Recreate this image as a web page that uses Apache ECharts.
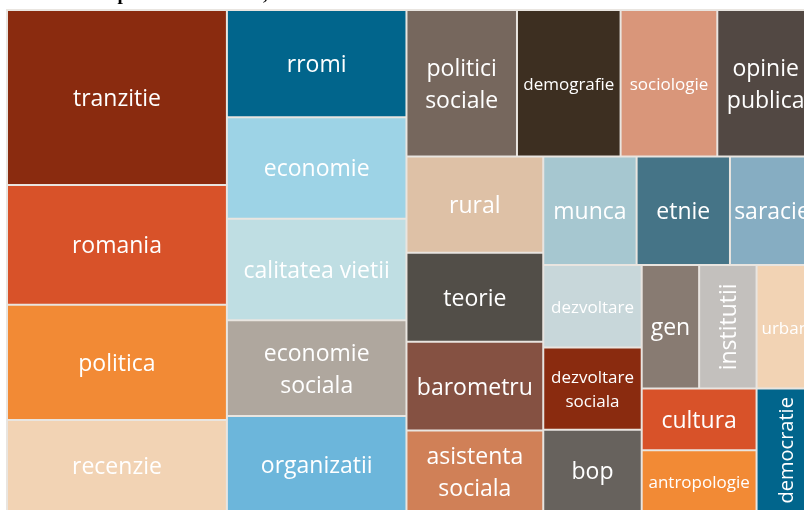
<!DOCTYPE html>
<html>
<head>
<meta charset="utf-8">
<script src="https://cdn.jsdelivr.net/npm/echarts@6/dist/echarts.min.js"></script>
<style>
html,body{margin:0;padding:0;background:#fff}
#chart{width:804px;height:510px}
</style>
</head>
<body>
<div id="chart"></div>
<script>
// cuvinte cheie si numarul de aparitii
var keywords = ['tranzitie', 'romania', 'politica', 'recenzie',
    'rromi', 'economie', 'calitatea vietii', 'economie sociala', 'organizatii',
    'politici sociale', 'demografie', 'sociologie', 'opinie publica',
    'rural', 'teorie', 'barometru', 'asistenta sociala',
    'munca', 'etnie', 'saracie',
    'dezvoltare', 'dezvoltare sociala', 'bop',
    'gen', 'institutii', 'urban', 'cultura', 'antropologie', 'democratie'];
var counts = [38, 26, 25, 20,
    19, 18, 18, 17, 17,
    16, 15, 14, 14,
    13, 12, 12, 11,
    10, 10, 9,
    8, 8, 8,
    7, 7, 7, 7, 7, 7];

// culori (aceeasi ordine ca mai sus)
var palette = ['#8a2b0f', '#d85229', '#f28a35', '#f2d3b4',
    '#01658c', '#9dd3e6', '#bfdee3', '#afa79e', '#6cb6db',
    '#76675d', '#3d2f21', '#d9967a', '#524843',
    '#dec1a6', '#524e48', '#855142', '#d08057',
    '#a6c7d0', '#457487', '#86adc2',
    '#c8d7da', '#8a2b0f', '#67625d',
    '#887b72', '#c3c0bd', '#f2d3b4', '#d85229', '#f28a35', '#01658c'];

var smallLabels = ['demografie', 'sociologie', 'dezvoltare', 'dezvoltare sociala', 'antropologie', 'urban'];
var verticalLabels = ['institutii', 'democratie'];
var oneLine = ['calitatea vietii'];

var myChart = echarts.init(document.getElementById('chart'));

var data = keywords.map(function (name, i) {
    var item = {
        name: name,
        value: counts[i],
        itemStyle: {color: palette[i]}
    };
    if (smallLabels.indexOf(name) >= 0) {
        item.label = {fontSize: 17, lineHeight: 24};
    }
    if (verticalLabels.indexOf(name) >= 0) {
        item.label = {rotate: 90, fontSize: name == 'democratie' ? 20 : 23};
    }
    return item;
});
// la valori egale echarts pune intai indexul mai mare
data.reverse();

var option = {
    animation: false,
    title: {
        text: 'Top 30 cuvinte-cheie, 1990-2015',
        left: 92,
        top: -19,
        textStyle: {
            fontFamily: 'Liberation Serif',
            fontWeight: 'bold',
            fontSize: 19,
            color: '#000'
        }
    },
    series: [{
        type: 'treemap',
        left: 6,
        top: 9,
        width: 809,
        height: 504,
        roam: false,
        nodeClick: false,
        breadcrumb: {show: false},
        sort: 'desc',
        itemStyle: {
            borderColor: '#e9e5e0',
            borderWidth: 1,
            gapWidth: 0
        },
        label: {
            show: true,
            position: 'inside',
            align: 'center',
            verticalAlign: 'middle',
            offset: [0, 2],
            overflow: 'none',
            color: '#fff',
            fontFamily: 'Open Sans',
            fontSize: 23,
            lineHeight: 32,
            formatter: function (p) {
                if (oneLine.indexOf(p.name) >= 0) return p.name;
                return p.name.replace(' ', '\n');
            }
        },
        emphasis: {disabled: true},
        data: data
    }]
};
myChart.setOption(option);
</script>
</body>
</html>
